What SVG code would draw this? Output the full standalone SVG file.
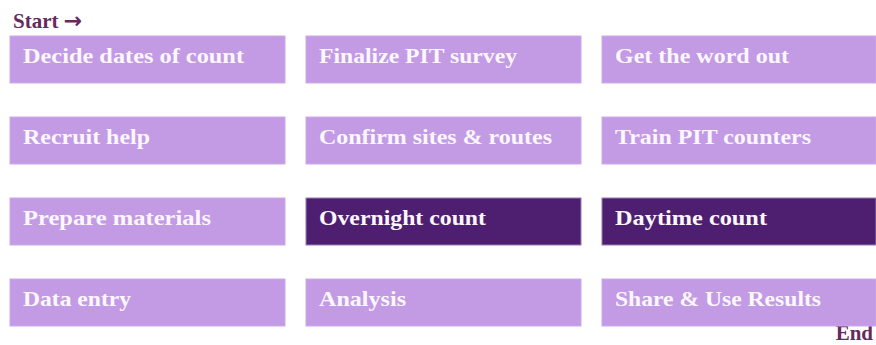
<svg xmlns="http://www.w3.org/2000/svg" width="876" height="345" viewBox="0 0 876 345">
<style>
.box{fill:#C39BE5;stroke:#CBA9EA;stroke-width:1}
.dark{fill:#4E1F70;stroke:#9A7AB8;stroke-width:1}
.t{font-family:"Liberation Serif","Times New Roman",serif;font-weight:bold;font-size:21px;fill:#FBF7FF}
.lbl{font-family:"Liberation Serif","Times New Roman",serif;font-weight:bold;font-size:21px;fill:#66295E}
</style>
<rect width="876" height="345" fill="#FFFFFF"/>
<text class="lbl" x="13" y="28">Start <tspan font-family="'Noto Sans','DejaVu Sans',sans-serif" font-size="22" font-weight="bold">→</tspan></text>
<text class="lbl" x="873" y="340" text-anchor="end">End</text>
<g id="n1"><rect class="box" x="10" y="36" width="275" height="47"/><text class="t" x="23" y="63" textLength="221" lengthAdjust="spacingAndGlyphs">Decide dates of count</text></g>
<g id="n2"><rect class="box" x="306" y="36" width="275" height="47"/><text class="t" x="319" y="63" textLength="198" lengthAdjust="spacingAndGlyphs">Finalize PIT survey</text></g>
<g id="n3"><rect class="box" x="602" y="36" width="274" height="47"/><text class="t" x="615" y="63" textLength="174" lengthAdjust="spacingAndGlyphs">Get the word out</text></g>
<g id="n4"><rect class="box" x="10" y="117" width="275" height="47"/><text class="t" x="23" y="144" textLength="127" lengthAdjust="spacingAndGlyphs">Recruit help</text></g>
<g id="n5"><rect class="box" x="306" y="117" width="275" height="47"/><text class="t" x="319" y="144" textLength="233" lengthAdjust="spacingAndGlyphs">Confirm sites &amp; routes</text></g>
<g id="n6"><rect class="box" x="602" y="117" width="274" height="47"/><text class="t" x="615" y="144" textLength="196" lengthAdjust="spacingAndGlyphs">Train PIT counters</text></g>
<g id="n7"><rect class="box" x="10" y="198" width="275" height="47"/><text class="t" x="23" y="225" textLength="188" lengthAdjust="spacingAndGlyphs">Prepare materials</text></g>
<g id="n8"><rect class="dark" x="306" y="198" width="275" height="47"/><text class="t" x="319" y="225" textLength="167" lengthAdjust="spacingAndGlyphs">Overnight count</text></g>
<g id="n9"><rect class="dark" x="602" y="198" width="274" height="47"/><text class="t" x="615" y="225" textLength="152" lengthAdjust="spacingAndGlyphs">Daytime count</text></g>
<g id="n10"><rect class="box" x="10" y="279" width="275" height="47"/><text class="t" x="23" y="306" textLength="108" lengthAdjust="spacingAndGlyphs">Data entry</text></g>
<g id="n11"><rect class="box" x="306" y="279" width="275" height="47"/><text class="t" x="319" y="306" textLength="87" lengthAdjust="spacingAndGlyphs">Analysis</text></g>
<g id="n12"><rect class="box" x="602" y="279" width="274" height="47"/><text class="t" x="615" y="306" textLength="206" lengthAdjust="spacingAndGlyphs">Share &amp; Use Results</text></g>
<g id="connectors"></g>
</svg>
